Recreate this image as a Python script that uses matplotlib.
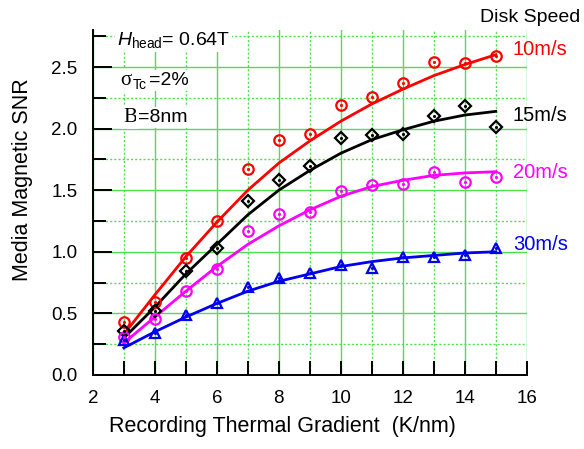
import matplotlib
matplotlib.use("Agg")
import matplotlib.pyplot as plt
from matplotlib.ticker import MultipleLocator, FormatStrFormatter

plt.rcParams['font.family'] = ['Liberation Sans', 'DejaVu Sans']
plt.rcParams['mathtext.fontset'] = 'custom'
plt.rcParams['mathtext.rm'] = 'Liberation Sans'
plt.rcParams['mathtext.it'] = 'Liberation Sans:italic'

x = [3, 4, 5, 6, 7, 8, 9, 10, 11, 12, 13, 14, 15]

snr_10 = [0.43, 0.59, 0.95, 1.25, 1.67, 1.91, 1.96, 2.19, 2.26, 2.37, 2.54, 2.53, 2.59]
snr_15 = [0.36, 0.52, 0.84, 1.03, 1.41, 1.58, 1.70, 1.92, 1.95, 1.96, 2.10, 2.18, 2.01]
snr_20 = [0.31, 0.45, 0.68, 0.86, 1.17, 1.31, 1.32, 1.49, 1.54, 1.55, 1.65, 1.57, 1.61]
snr_30 = [0.28, 0.34, 0.49, 0.58, 0.71, 0.79, 0.83, 0.89, 0.87, 0.96, 0.96, 0.97, 1.03]

fit_10 = [0.33, 0.65, 0.96, 1.24, 1.50, 1.72, 1.90, 2.06, 2.20, 2.32, 2.43, 2.52, 2.60]
fit_15 = [0.30, 0.55, 0.82, 1.06, 1.30, 1.50, 1.66, 1.80, 1.91, 1.99, 2.06, 2.11, 2.14]
fit_20 = [0.26, 0.47, 0.68, 0.88, 1.06, 1.21, 1.34, 1.45, 1.53, 1.58, 1.62, 1.64, 1.65]
fit_30 = [0.22, 0.35, 0.47, 0.58, 0.68, 0.76, 0.82, 0.88, 0.92, 0.95, 0.97, 0.99, 1.00]

speed_labels = ['10m/s', '15m/s', '20m/s', '30m/s']
colors = ['#ff0000', '#000000', '#ff00ff', '#0000ee']
markers = ['o', 'D', 'o', '^']

fig = plt.figure(figsize=(5.84, 4.49), dpi=100)
ax = fig.add_axes([0.159, 0.165, 0.743, 0.768])

ax.set_xlim(2, 16)
ax.set_ylim(0, 2.8)
ax.xaxis.set_major_locator(MultipleLocator(2))
ax.xaxis.set_minor_locator(MultipleLocator(1))
ax.yaxis.set_major_locator(MultipleLocator(0.5))
ax.yaxis.set_minor_locator(MultipleLocator(0.25))
ax.yaxis.set_major_formatter(FormatStrFormatter('%.1f'))

grid_c = '#4ee04e'
ax.grid(which='major', color=grid_c, lw=1.0, ls='-', zorder=0)
ax.grid(which='minor', color=grid_c, lw=1.0, ls=(0, (1.5, 1.5)), zorder=0)
ax.set_axisbelow(True)

for s in ['top', 'right']:
    ax.spines[s].set_visible(False)
for s in ['left', 'bottom']:
    ax.spines[s].set_linewidth(1.4)

ax.tick_params(axis='y', which='major', direction='in', length=14, width=1.4, labelsize=13.5, pad=11)
ax.tick_params(axis='y', which='minor', direction='in', length=9, width=1.4)
ax.tick_params(axis='x', which='major', direction='in', length=10, width=1.4, labelsize=13.5, pad=11)
ax.tick_params(axis='x', which='minor', direction='in', length=10, width=1.4)

series = [snr_10, snr_15, snr_20, snr_30]
fits = [fit_10, fit_15, fit_20, fit_30]
for vals, fit, c, m in zip(series, fits, colors, markers):
    ax.plot(x, fit, color=c, lw=2.0, zorder=3)
    ms = 7.5 if m != 'D' else 6.5
    ax.plot(x, vals, ls='none', marker=m, ms=ms, mfc='none', mec=c, mew=1.6, zorder=4)
    ax.plot(x, vals, ls='none', marker='.', ms=2.5, color=c, zorder=5)

label_y = [2.64, 2.11, 1.64, 1.06]
for lab, ly, c in zip(speed_labels, label_y, colors):
    ax.text(15.55, ly, lab, color=c, fontsize=14.5, ha='left', va='center', clip_on=False)

fig.text(0.822, 0.962, 'Disk Speed', fontsize=14, ha='left', va='center')

# parameter annotations (white background hides grid behind the text)
bb = dict(fc='white', ec='none', pad=1.5)
ax.text(2.78, 2.72, r'$\mathit{H}_{\mathrm{head}}$= 0.64T', fontsize=14, va='center', bbox=bb, zorder=2)
ax.text(2.87, 2.39, 'σ', fontsize=15, va='center', family='Liberation Serif', bbox=bb, zorder=2)
ax.text(3.30, 2.355, 'Tc', fontsize=10, va='center', bbox=bb, zorder=2)
ax.text(3.80, 2.39, '=2%', fontsize=14, va='center', bbox=bb, zorder=2)
ax.text(2.98, 2.09, 'B', fontsize=15, va='center', family='Liberation Serif', bbox=bb, zorder=2)
ax.text(3.45, 2.09, '=8nm', fontsize=14, va='center', bbox=bb, zorder=2)

ax.set_xlabel('Recording Thermal Gradient  (K/nm)', fontsize=15.5)
ax.xaxis.label.set_va('center')
ax.xaxis.set_label_coords(0.436, -0.151)
ax.set_ylabel('Media Magnetic SNR', fontsize=15.5)
ax.yaxis.label.set_va('center')
ax.yaxis.set_label_coords(-0.161, 0.565)

fig.savefig('out.png', dpi=100)
